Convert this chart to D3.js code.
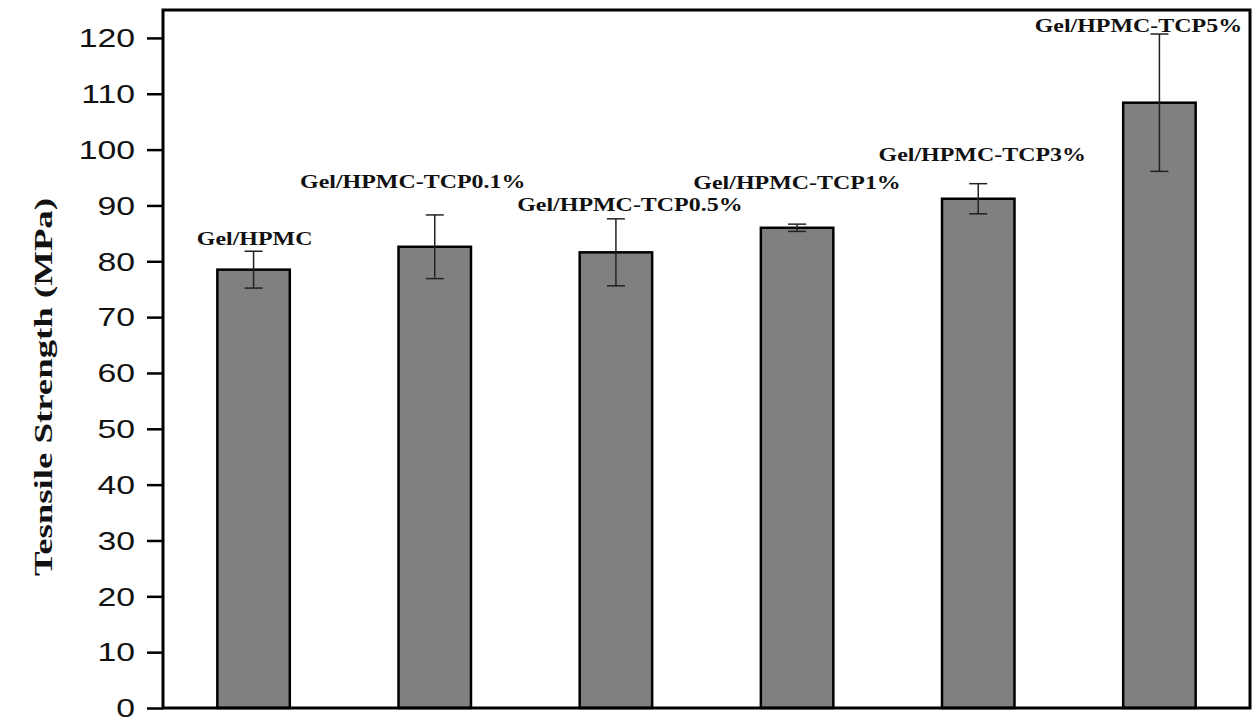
<!DOCTYPE html>
<html lang="en">
<head>
    <meta charset="UTF-8">
    <title>Tensile strength</title>
    <script src="https://d3js.org/d3.v7.min.js"></script>
    <style>
        body { margin: 0; background: #fff; }
    </style>
</head>
<body>
    <div id="chart"></div>

    <script>
        // data
        var samples = ["Gel/HPMC", "Gel/HPMC-TCP0.1%", "Gel/HPMC-TCP0.5%", "Gel/HPMC-TCP1%", "Gel/HPMC-TCP3%", "Gel/HPMC-TCP5%"];
        var strength = [78.5, 82.6, 81.6, 86.0, 91.2, 108.4];
        var errors = [3.3, 5.7, 6.0, 0.65, 2.7, 12.3];
        var yTicks = [0, 10, 20, 30, 40, 50, 60, 70, 80, 90, 100, 110, 120];

        // hand placed annotation spots (x offset in px from bar centre, baseline in MPa)
        var labelDx = [1, -22, 14, 0, 4, -21];
        var labelAt = [82.9, 93.2, 89.0, 93.0, 98.0, 121.0];

        var W = 1252, H = 722;
        var plotL = 163, plotR = 1250, plotT = 10, plotB = 708;

        var svg = d3.select("#chart")
            .append("svg")
            .attr("width", W)
            .attr("height", H);

        var x = d3.scaleBand()
            .domain(samples)
            .range([plotL, plotR])
            .paddingInner(0.6)
            .paddingOuter(0.3);

        var y = d3.scaleLinear()
            .domain([0, 125])
            .range([plotB, plotT]);

        // bars
        svg.append("g")
            .selectAll("rect")
            .data(samples)
            .enter()
            .append("rect")
            .attr("x", function(d) { return x(d); })
            .attr("y", function(d, i) { return y(strength[i]); })
            .attr("width", x.bandwidth())
            .attr("height", function(d, i) { return y(0) - y(strength[i]); })
            .attr("fill", "#808080")
            .attr("stroke", "#000")
            .attr("stroke-width", 2.5);

        // error bars
        var eb = svg.append("g")
            .attr("stroke", "#222")
            .attr("stroke-width", 1.5);
        samples.forEach(function(d, i) {
            var cx = x(d) + x.bandwidth() / 2;
            var hi = y(strength[i] + errors[i]), lo = y(strength[i] - errors[i]);
            eb.append("line").attr("x1", cx).attr("x2", cx).attr("y1", hi).attr("y2", lo);
            eb.append("line").attr("x1", cx - 9).attr("x2", cx + 9).attr("y1", hi).attr("y2", hi);
            eb.append("line").attr("x1", cx - 9).attr("x2", cx + 9).attr("y1", lo).attr("y2", lo);
        });

        // sample names above the bars (figure text is stretched sideways)
        svg.append("g")
            .selectAll("text")
            .data(samples)
            .enter()
            .append("text")
            .attr("transform", function(d, i) {
                return "translate(" + (x(d) + x.bandwidth() / 2 + labelDx[i]) + "," + y(labelAt[i]) + ") scale(1.26,1)";
            })
            .attr("text-anchor", "middle")
            .style("font-family", "'Liberation Serif', 'Times New Roman', serif")
            .style("font-weight", "bold")
            .style("font-size", "19px")
            .attr("fill", "#111")
            .text(function(d) { return d; });

        // y axis
        var yAxis = svg.append("g")
            .attr("transform", "translate(" + plotL + ",0)")
            .call(d3.axisLeft(y).tickValues(yTicks).tickSize(16).tickFormat(d3.format("d")));
        yAxis.select(".domain").remove();
        yAxis.selectAll(".tick line").attr("stroke", "#000").attr("stroke-width", 2.5);
        yAxis.selectAll(".tick text")
            .attr("x", null)
            .attr("dy", null)
            .attr("dominant-baseline", "central")
            .attr("transform", "translate(-28,0) scale(1.35,1)")
            .style("font-family", "'Liberation Sans', Arial, sans-serif")
            .style("font-size", "25px")
            .attr("fill", "#111");

        // frame
        svg.append("rect")
            .attr("x", plotL)
            .attr("y", plotT)
            .attr("width", plotR - plotL)
            .attr("height", plotB - plotT)
            .attr("fill", "none")
            .attr("stroke", "#000")
            .attr("stroke-width", 3);

        // y title, stretched along its length like the original
        svg.append("text")
            .attr("transform", "translate(52," + ((plotT + plotB) / 2 + 28) + ") rotate(-90)")
            .attr("text-anchor", "middle")
            .attr("textLength", 378)
            .attr("lengthAdjust", "spacingAndGlyphs")
            .style("font-family", "'Liberation Serif', 'Times New Roman', serif")
            .style("font-weight", "bold")
            .style("font-size", "25px")
            .attr("fill", "#111")
            .text("Tesnsile Strength (MPa)");
    </script>
</body>
</html>
